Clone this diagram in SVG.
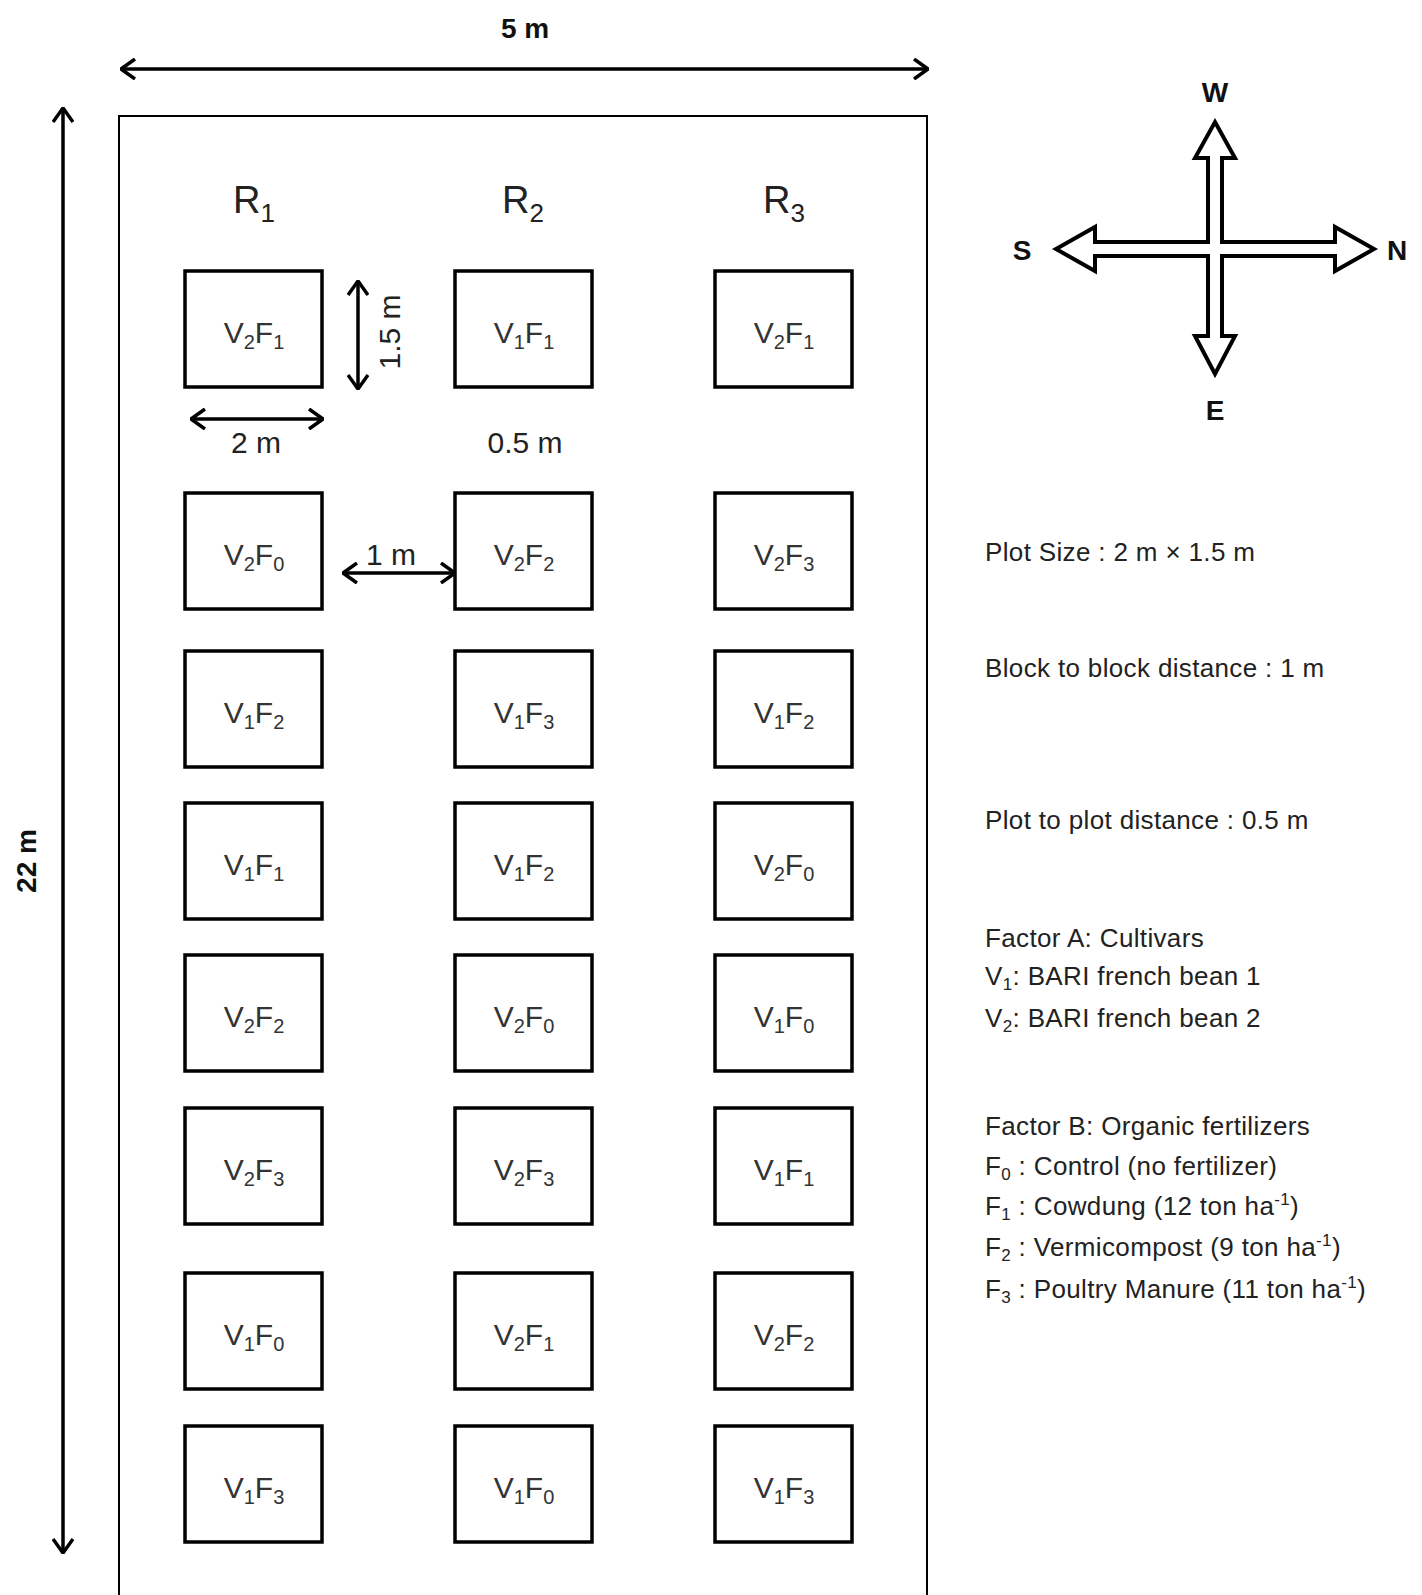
<svg xmlns="http://www.w3.org/2000/svg" width="1422" height="1595" viewBox="0 0 1422 1595">
<style>
.plot{fill:#fff;stroke:#000;stroke-width:3.5}
.lbl{font-family:"Liberation Sans",Arial,sans-serif;font-size:30px;fill:#333;text-anchor:middle}
.sub{font-size:20px}
.rl{font-family:"Liberation Sans",Arial,sans-serif;font-size:38px;fill:#222;text-anchor:middle}
.dim{font-family:"Liberation Sans",Arial,sans-serif;font-size:30px;fill:#222;text-anchor:middle}
.bold{font-family:"Liberation Sans",Arial,sans-serif;font-size:28px;font-weight:bold;fill:#111;text-anchor:middle}
.leg{font-family:"Liberation Sans",Arial,sans-serif;font-size:26px;fill:#222;letter-spacing:0.35px}
.ls{font-size:17px}
.conn{fill:none;stroke:#000;stroke-width:3.5}
</style>
<defs>
<marker id="arr" viewBox="0 0 16 22" refX="15" refY="11" markerWidth="16" markerHeight="22" markerUnits="userSpaceOnUse" orient="auto-start-reverse">
<path d="M1,1 L15,11 L1,21" fill="none" stroke="#000" stroke-width="3.5"/>
</marker>
</defs>
<rect width="1422" height="1595" fill="#fff"/>
<g id="field">
<rect x="119" y="116" width="808" height="1500" fill="none" stroke="#000" stroke-width="2"/>
</g>
<g id="connectors">
<line class="conn" x1="121" y1="69" x2="928" y2="69" marker-start="url(#arr)" marker-end="url(#arr)"/>
<line class="conn" x1="63" y1="108" x2="63" y2="1553" marker-start="url(#arr)" marker-end="url(#arr)"/>
<line class="conn" x1="358" y1="281" x2="358" y2="389" marker-start="url(#arr)" marker-end="url(#arr)"/>
<line class="conn" x1="191" y1="419" x2="323" y2="419" marker-start="url(#arr)" marker-end="url(#arr)"/>
<line class="conn" x1="343" y1="573" x2="455" y2="573" marker-start="url(#arr)" marker-end="url(#arr)"/>
</g>
<g id="dimension-labels">
<text class="bold" x="525" y="38">5 m</text>
<text class="bold" transform="translate(36,861) rotate(-90)" x="0" y="0" font-size="30">22 m</text>
<text class="dim" transform="translate(400,332) rotate(-90)" x="0" y="0">1.5 m</text>
<text class="dim" x="256" y="453">2 m</text>
<text class="dim" x="525" y="453">0.5 m</text>
<text class="dim" x="391" y="565">1 m</text>
</g>
<g id="replication-labels">
<text class="rl" x="254" y="213">R<tspan font-size="26" dy="9">1</tspan></text>
<text class="rl" x="523" y="213">R<tspan font-size="26" dy="9">2</tspan></text>
<text class="rl" x="784" y="213">R<tspan font-size="26" dy="9">3</tspan></text>
</g>
<g id="plots">
<g id="r1-p1"><rect class="plot" x="185" y="271" width="137" height="116"/><text class="lbl" x="254" y="343">V<tspan class="sub" dy="6">2</tspan><tspan dy="-6">F</tspan><tspan class="sub" dy="6">1</tspan></text></g>
<g id="r2-p1"><rect class="plot" x="455" y="271" width="137" height="116"/><text class="lbl" x="524" y="343">V<tspan class="sub" dy="6">1</tspan><tspan dy="-6">F</tspan><tspan class="sub" dy="6">1</tspan></text></g>
<g id="r3-p1"><rect class="plot" x="715" y="271" width="137" height="116"/><text class="lbl" x="784" y="343">V<tspan class="sub" dy="6">2</tspan><tspan dy="-6">F</tspan><tspan class="sub" dy="6">1</tspan></text></g>

<g id="r1-p2"><rect class="plot" x="185" y="493" width="137" height="116"/><text class="lbl" x="254" y="565">V<tspan class="sub" dy="6">2</tspan><tspan dy="-6">F</tspan><tspan class="sub" dy="6">0</tspan></text></g>
<g id="r2-p2"><rect class="plot" x="455" y="493" width="137" height="116"/><text class="lbl" x="524" y="565">V<tspan class="sub" dy="6">2</tspan><tspan dy="-6">F</tspan><tspan class="sub" dy="6">2</tspan></text></g>
<g id="r3-p2"><rect class="plot" x="715" y="493" width="137" height="116"/><text class="lbl" x="784" y="565">V<tspan class="sub" dy="6">2</tspan><tspan dy="-6">F</tspan><tspan class="sub" dy="6">3</tspan></text></g>

<g id="r1-p3"><rect class="plot" x="185" y="651" width="137" height="116"/><text class="lbl" x="254" y="723">V<tspan class="sub" dy="6">1</tspan><tspan dy="-6">F</tspan><tspan class="sub" dy="6">2</tspan></text></g>
<g id="r2-p3"><rect class="plot" x="455" y="651" width="137" height="116"/><text class="lbl" x="524" y="723">V<tspan class="sub" dy="6">1</tspan><tspan dy="-6">F</tspan><tspan class="sub" dy="6">3</tspan></text></g>
<g id="r3-p3"><rect class="plot" x="715" y="651" width="137" height="116"/><text class="lbl" x="784" y="723">V<tspan class="sub" dy="6">1</tspan><tspan dy="-6">F</tspan><tspan class="sub" dy="6">2</tspan></text></g>

<g id="r1-p4"><rect class="plot" x="185" y="803" width="137" height="116"/><text class="lbl" x="254" y="875">V<tspan class="sub" dy="6">1</tspan><tspan dy="-6">F</tspan><tspan class="sub" dy="6">1</tspan></text></g>
<g id="r2-p4"><rect class="plot" x="455" y="803" width="137" height="116"/><text class="lbl" x="524" y="875">V<tspan class="sub" dy="6">1</tspan><tspan dy="-6">F</tspan><tspan class="sub" dy="6">2</tspan></text></g>
<g id="r3-p4"><rect class="plot" x="715" y="803" width="137" height="116"/><text class="lbl" x="784" y="875">V<tspan class="sub" dy="6">2</tspan><tspan dy="-6">F</tspan><tspan class="sub" dy="6">0</tspan></text></g>

<g id="r1-p5"><rect class="plot" x="185" y="955" width="137" height="116"/><text class="lbl" x="254" y="1027">V<tspan class="sub" dy="6">2</tspan><tspan dy="-6">F</tspan><tspan class="sub" dy="6">2</tspan></text></g>
<g id="r2-p5"><rect class="plot" x="455" y="955" width="137" height="116"/><text class="lbl" x="524" y="1027">V<tspan class="sub" dy="6">2</tspan><tspan dy="-6">F</tspan><tspan class="sub" dy="6">0</tspan></text></g>
<g id="r3-p5"><rect class="plot" x="715" y="955" width="137" height="116"/><text class="lbl" x="784" y="1027">V<tspan class="sub" dy="6">1</tspan><tspan dy="-6">F</tspan><tspan class="sub" dy="6">0</tspan></text></g>

<g id="r1-p6"><rect class="plot" x="185" y="1108" width="137" height="116"/><text class="lbl" x="254" y="1180">V<tspan class="sub" dy="6">2</tspan><tspan dy="-6">F</tspan><tspan class="sub" dy="6">3</tspan></text></g>
<g id="r2-p6"><rect class="plot" x="455" y="1108" width="137" height="116"/><text class="lbl" x="524" y="1180">V<tspan class="sub" dy="6">2</tspan><tspan dy="-6">F</tspan><tspan class="sub" dy="6">3</tspan></text></g>
<g id="r3-p6"><rect class="plot" x="715" y="1108" width="137" height="116"/><text class="lbl" x="784" y="1180">V<tspan class="sub" dy="6">1</tspan><tspan dy="-6">F</tspan><tspan class="sub" dy="6">1</tspan></text></g>

<g id="r1-p7"><rect class="plot" x="185" y="1273" width="137" height="116"/><text class="lbl" x="254" y="1345">V<tspan class="sub" dy="6">1</tspan><tspan dy="-6">F</tspan><tspan class="sub" dy="6">0</tspan></text></g>
<g id="r2-p7"><rect class="plot" x="455" y="1273" width="137" height="116"/><text class="lbl" x="524" y="1345">V<tspan class="sub" dy="6">2</tspan><tspan dy="-6">F</tspan><tspan class="sub" dy="6">1</tspan></text></g>
<g id="r3-p7"><rect class="plot" x="715" y="1273" width="137" height="116"/><text class="lbl" x="784" y="1345">V<tspan class="sub" dy="6">2</tspan><tspan dy="-6">F</tspan><tspan class="sub" dy="6">2</tspan></text></g>

<g id="r1-p8"><rect class="plot" x="185" y="1426" width="137" height="116"/><text class="lbl" x="254" y="1498">V<tspan class="sub" dy="6">1</tspan><tspan dy="-6">F</tspan><tspan class="sub" dy="6">3</tspan></text></g>
<g id="r2-p8"><rect class="plot" x="455" y="1426" width="137" height="116"/><text class="lbl" x="524" y="1498">V<tspan class="sub" dy="6">1</tspan><tspan dy="-6">F</tspan><tspan class="sub" dy="6">0</tspan></text></g>
<g id="r3-p8"><rect class="plot" x="715" y="1426" width="137" height="116"/><text class="lbl" x="784" y="1498">V<tspan class="sub" dy="6">1</tspan><tspan dy="-6">F</tspan><tspan class="sub" dy="6">3</tspan></text></g>
</g>
<g id="compass">
<path d="M1215,122 L1235,158 L1222,158 L1222,242 L1335,242 L1335,227 L1374,249 L1335,271 L1335,256 L1222,256 L1222,336 L1235,336 L1215,374 L1195,336 L1208,336 L1208,256 L1095,256 L1095,271 L1056,249 L1095,227 L1095,242 L1208,242 L1208,158 L1195,158 Z" fill="#fff" stroke="#000" stroke-width="4" stroke-linejoin="miter"/>
<text class="bold" x="1215" y="102">W</text>
<text class="bold" x="1022" y="260">S</text>
<text class="bold" x="1397" y="260">N</text>
<text class="bold" x="1215" y="420">E</text>
</g>
<g id="legend">
<text class="leg" x="985" y="561">Plot Size : 2 m × 1.5 m</text>
<text class="leg" x="985" y="677">Block to block distance : 1 m</text>
<text class="leg" x="985" y="829">Plot to plot distance : 0.5 m</text>
<text class="leg" x="985" y="947">Factor A: Cultivars</text>
<text class="leg" x="985" y="985">V<tspan class="ls" dy="5">1</tspan><tspan dy="-5">: BARI french bean 1</tspan></text>
<text class="leg" x="985" y="1027">V<tspan class="ls" dy="5">2</tspan><tspan dy="-5">: BARI french bean 2</tspan></text>
<text class="leg" x="985" y="1135">Factor B: Organic fertilizers</text>
<text class="leg" x="985" y="1175">F<tspan class="ls" dy="5">0</tspan><tspan dy="-5"> : Control (no fertilizer)</tspan></text>
<text class="leg" x="985" y="1215">F<tspan class="ls" dy="5">1</tspan><tspan dy="-5"> : Cowdung (12 ton ha</tspan><tspan class="ls" dy="-10">-1</tspan><tspan dy="10">)</tspan></text>
<text class="leg" x="985" y="1256">F<tspan class="ls" dy="5">2</tspan><tspan dy="-5"> : Vermicompost (9 ton ha</tspan><tspan class="ls" dy="-10">-1</tspan><tspan dy="10">)</tspan></text>
<text class="leg" x="985" y="1298">F<tspan class="ls" dy="5">3</tspan><tspan dy="-5"> : Poultry Manure (11 ton ha</tspan><tspan class="ls" dy="-10">-1</tspan><tspan dy="10">)</tspan></text>
</g>
</svg>
